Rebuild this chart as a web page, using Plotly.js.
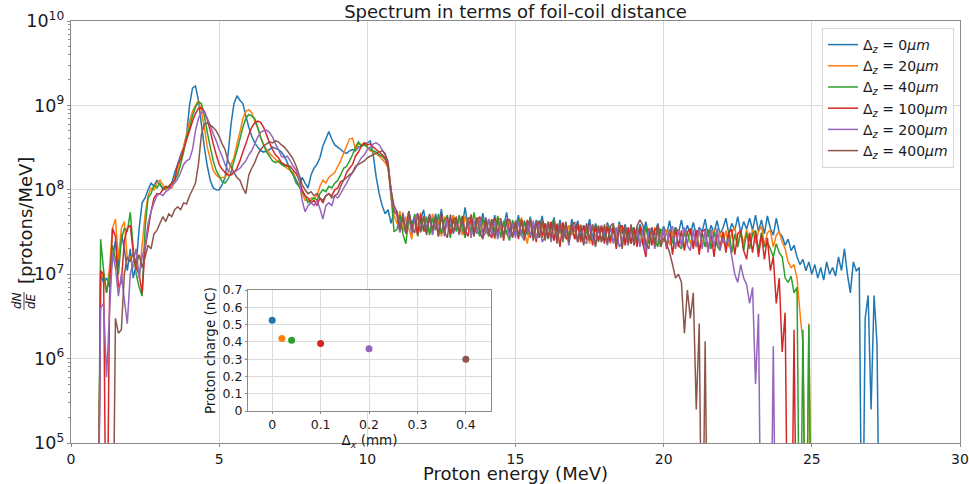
<!DOCTYPE html>
<html>
<head>
<meta charset="utf-8">
<script src="https://cdn.plot.ly/plotly-3.0.1.min.js"></script>
<style>html,body{margin:0;padding:0;background:#fff;}#chart{width:969px;height:484px;}</style>
</head>
<body>
<div id="chart"></div>
<script>
// Energy grid: first bin 0.9 MeV, bin width 0.1 MeV
const E_START = 0.9;
const E_STEP = 0.1;

const seriesNames = ['Δ<sub><i>z</i></sub> = 0<i>μm</i>', 'Δ<sub><i>z</i></sub> = 20<i>μm</i>', 'Δ<sub><i>z</i></sub> = 40<i>μm</i>',
  'Δ<sub><i>z</i></sub> = 100<i>μm</i>', 'Δ<sub><i>z</i></sub> = 200<i>μm</i>', 'Δ<sub><i>z</i></sub> = 400<i>μm</i>'];
const colors = ['#1f77b4', '#ff7f0e', '#2ca02c', '#d62728', '#9467bd', '#8c564b'];

// dN/dE [protons/MeV], Δz = 0 µm
const spec0 = [1e3,
1.0e7,8e6,9e6,7e6,1.5e7,2.5e7,1.2e7,3.0e7,2.0e7,1.1e7,
2.0e7,9e6,1.3e7,3.5e7,7e7,8e7,1.0e8,1.2e8,1.1e8,1.3e8,
1.15e8,1.05e8,1.0e8,1.1e8,1.2e8,1.6e8,2.0e8,2.6e8,3.2e8,4.5e8,
1.0e9,1.6e9,1.7e9,1.15e9,6.0e8,3.2e8,1.9e8,1.3e8,1.05e8,1.0e8,
1.0e8,1.15e8,1.4e8,2.6e8,6.0e8,1.05e9,1.3e9,1.15e9,1.05e9,7.5e8,
5.5e8,4.3e8,3.6e8,3.2e8,2.9e8,2.8e8,2.9e8,3.0e8,3.2e8,3.1e8,
3.0e8,2.8e8,2.5e8,2.1e8,1.7e8,1.5e8,1.2e8,1.1e8,1.4e8,1.2e8,
1.05e8,1.5e8,1.8e8,2.0e8,2.4e8,3.3e8,4.0e8,4.9e8,4.0e8,3.4e8,
3.2e8,3.0e8,2.8e8,2.7e8,2.9e8,3.0e8,2.9e8,3.2e8,3.3e8,3.5e8,
3.6e8,3.8e8,2.6e8,1.4e8,9e7,6.5e7,5.2e7,5.8e7,4.0e7,5.5e7,
5.5e7,3.6e7,4.8e7,3.2e7,5.6e7,3.9e7,4.9e7,3.3e7,4.4e7,5.8e7,
3.4e7,4.6e7,3.0e7,5.2e7,3.8e7,5.9e7,3.2e7,4.4e7,3.6e7,5.0e7,
3.3e7,4.8e7,3.7e7,6.2e7,3.5e7,4.4e7,2.9e7,4.7e7,3.6e7,5.3e7,
3.1e7,4.5e7,3.4e7,5.0e7,2.8e7,4.2e7,3.6e7,5.4e7,3.2e7,4.0e7,
3.5e7,5.0e7,2.9e7,4.3e7,3.3e7,4.8e7,2.7e7,4.4e7,3.5e7,4.9e7,
3.0e7,4.2e7,3.4e7,4.7e7,2.8e7,4.4e7,3.1e7,3.9e7,2.7e7,4.5e7,
3.2e7,4.3e7,2.7e7,3.8e7,3.0e7,4.5e7,2.6e7,4.0e7,3.1e7,3.7e7,
2.8e7,4.1e7,3.2e7,3.6e7,2.5e7,4.2e7,3.0e7,3.9e7,2.7e7,3.6e7,
3.3e7,2.6e7,3.9e7,3.0e7,4.2e7,2.7e7,3.5e7,2.9e7,4.0e7,2.8e7,
3.7e7,2.9e7,4.3e7,2.7e7,3.6e7,3.1e7,4.4e7,2.8e7,3.8e7,3.0e7,
4.1e7,2.9e7,3.6e7,3.2e7,4.5e7,2.8e7,3.8e7,3.1e7,4.3e7,3.0e7,
3.5e7,4.6e7,3.0e7,4.0e7,3.3e7,4.8e7,3.1e7,4.2e7,3.4e7,4.6e7,
3.3e7,5.0e7,3.2e7,4.4e7,3.0e7,4.9e7,3.5e7,2.9e7,4.6e7,3.1e7,
2.8e7,2.2e7,2.6e7,1.9e7,2.2e7,1.6e7,1.3e7,1.5e7,1.1e7,1.4e7,
1.0e7,1.3e7,9e6,1.2e7,8.5e6,1.4e7,1.0e7,1.2e7,9.5e6,1.6e7,
1.1e7,2.0e7,1.0e7,6e6,1.4e7,1.1e7,1.2e7,1e3,3e6,5.6e6,
2.5e5,5.6e6,1.5e6,1e3];

// Δz = 20 µm
const spec20 = [1e3,
1.1e7,9e6,6e6,1.2e7,3.5e7,4.5e7,1.5e7,3.5e7,4.2e7,1.5e7,
1.6e7,1.2e7,1.5e7,9e6,2.2e7,5e7,8.5e7,1.05e8,1.0e8,1.2e8,
1.3e8,1.15e8,1.0e8,1.1e8,1.05e8,1.4e8,1.6e8,2.4e8,3.2e8,4.5e8,
6.5e8,8.5e8,1.0e9,1.15e9,8.5e8,5.5e8,3.2e8,2.3e8,1.7e8,1.5e8,
1.4e8,1.4e8,1.4e8,1.6e8,2.0e8,2.4e8,3.5e8,4.8e8,7.0e8,8.5e8,
8.9e8,8.2e8,6.5e8,5.4e8,4.2e8,3.4e8,3.0e8,2.7e8,2.5e8,2.3e8,
2.1e8,2.1e8,1.9e8,1.8e8,1.7e8,1.6e8,1.3e8,1.1e8,9e7,7.5e7,
7.5e7,8e7,8e7,8.5e7,1.1e8,1.3e8,1.2e8,1.4e8,1.5e8,1.6e8,
1.9e8,2.2e8,2.7e8,3.3e8,4.0e8,4.1e8,3.0e8,3.5e8,3.4e8,3.6e8,
3.2e8,2.9e8,2.8e8,2.7e8,2.5e8,2.3e8,2.1e8,1.8e8,8e7,5e7,
4.0e7,5.6e7,3.2e7,4.8e7,3.5e7,2.6e7,4.9e7,3.6e7,5.4e7,3.3e7,
4.7e7,3.1e7,5.2e7,3.6e7,4.4e7,2.8e7,4.8e7,3.8e7,3.0e7,5.0e7,
3.6e7,4.6e7,2.9e7,4.9e7,3.4e7,4.3e7,2.8e7,4.7e7,3.5e7,4.1e7,
3.1e7,4.5e7,3.6e7,2.6e7,4.8e7,3.3e7,4.1e7,2.9e7,4.4e7,3.4e7,
4.0e7,2.9e7,4.7e7,3.2e7,2.3e7,4.2e7,3.1e7,3.9e7,2.7e7,3.8e7,
2.9e7,4.2e7,3.2e7,2.5e7,4.0e7,3.0e7,4.1e7,2.6e7,3.8e7,2.9e7,
3.6e7,2.4e7,3.9e7,2.8e7,3.5e7,2.3e7,3.9e7,2.7e7,3.6e7,2.5e7,
3.3e7,3.8e7,2.3e7,3.5e7,2.6e7,3.9e7,2.4e7,3.3e7,2.2e7,3.6e7,
2.6e7,3.6e7,2.3e7,3.3e7,2.1e7,3.4e7,2.5e7,3.6e7,2.2e7,3.1e7,
2.4e7,3.4e7,2.2e7,3.2e7,2.0e7,3.3e7,2.5e7,2.1e7,3.2e7,2.3e7,
3.1e7,2.1e7,3.3e7,2.3e7,3.2e7,1.9e7,2.9e7,3.4e7,2.2e7,3.1e7,
2.3e7,3.3e7,2.1e7,3.1e7,3.6e7,2.2e7,3.2e7,2.3e7,3.4e7,2.4e7,
3.4e7,2.3e7,3.2e7,3.7e7,2.2e7,3.1e7,3.3e7,2.1e7,2.9e7,3.2e7,
2.4e7,2.0e7,1.4e7,1.2e7,1.3e7,9e6,3.5e6,1.5e6,1e3,2.6e6,
1e3];

// Δz = 40 µm
const spec40 = [1e3,
2.6e7,1.1e7,6e6,1.0e7,2.2e7,1.5e7,1.0e7,2.6e7,3.5e7,3.2e7,
5.4e7,2.0e7,1.0e7,7e6,5.5e6,3.5e7,8e7,9e7,1.15e8,1.05e8,
1.2e8,1.0e8,1.05e8,1.1e8,1.2e8,1.3e8,1.5e8,2.0e8,2.8e8,4.2e8,
5.5e8,7.5e8,9.5e8,1.1e9,1.05e9,7.5e8,4.8e8,3.2e8,2.2e8,1.7e8,
1.45e8,1.25e8,1.2e8,1.35e8,1.6e8,2.2e8,2.9e8,4.0e8,5.5e8,7.0e8,
7.8e8,7.5e8,7.0e8,5.5e8,4.2e8,3.4e8,2.8e8,2.5e8,2.2e8,2.1e8,
2.2e8,2.0e8,1.9e8,2.0e8,1.7e8,1.5e8,1.3e8,1.1e8,9.5e7,8.5e7,
7e7,7.5e7,8e7,7.5e7,9e7,1.0e8,9.5e7,1.1e8,1.05e8,1.2e8,
1.3e8,1.5e8,1.8e8,1.9e8,2.2e8,2.6e8,3.2e8,3.7e8,3.3e8,3.4e8,
3.2e8,3.0e8,2.9e8,2.8e8,2.6e8,2.5e8,2.3e8,1.9e8,9e7,3.2e7,
3.4e7,5.0e7,3.0e7,2.3e7,4.7e7,3.3e7,5.2e7,2.8e7,4.5e7,3.2e7,
4.8e7,2.9e7,4.6e7,3.3e7,5.2e7,3.0e7,4.3e7,5.0e7,2.7e7,4.5e7,
3.2e7,5.0e7,3.6e7,2.7e7,4.7e7,3.1e7,5.4e7,3.4e7,2.8e7,4.6e7,
3.4e7,2.8e7,4.5e7,3.2e7,4.9e7,2.7e7,4.3e7,3.1e7,2.5e7,4.4e7,
3.0e7,4.5e7,2.8e7,4.2e7,2.9e7,4.6e7,2.6e7,4.0e7,4.3e7,2.7e7,
4.0e7,2.6e7,3.9e7,4.4e7,2.7e7,3.8e7,2.4e7,4.0e7,2.8e7,3.9e7,
2.6e7,3.8e7,3.5e7,2.3e7,3.9e7,2.7e7,2.5e7,3.8e7,2.4e7,3.6e7,
2.5e7,3.7e7,2.6e7,3.8e7,2.2e7,3.5e7,3.7e7,2.4e7,3.4e7,2.3e7,
3.6e7,2.4e7,3.4e7,2.2e7,3.7e7,2.3e7,3.5e7,2.5e7,2.1e7,3.4e7,
3.2e7,2.1e7,3.4e7,2.3e7,3.6e7,2.2e7,2.0e7,3.3e7,2.3e7,3.5e7,
2.2e7,3.3e7,1.9e7,3.1e7,2.1e7,3.4e7,2.0e7,3.2e7,2.2e7,1.9e7,
3.1e7,2.0e7,3.3e7,1.8e7,3.0e7,2.1e7,3.2e7,1.9e7,3.1e7,2.0e7,
3.0e7,3.3e7,1.9e7,3.1e7,2.1e7,2.4e7,2.0e7,1.6e7,2.3e7,1.8e7,
1.6e7,9e6,8e6,9.5e6,6e6,7e6,1e3,2.2e6,1e3,2.5e6,
1e3];

// Δz = 100 µm
const spec100 = [1e3,
1.1e7,1.0e7,1e3,5e6,3.5e7,2.8e7,7e6,8e6,2.5e7,3.5e7,
3.8e7,1.8e7,1.2e7,1.0e7,6e6,2.0e7,3.3e7,5.5e7,8e7,9e7,
9e7,1.0e8,1.1e8,1.05e8,1.2e8,1.3e8,2.0e8,2.3e8,3.0e8,3.9e8,
5.0e8,6.5e8,8.0e8,9.2e8,9.4e8,8.5e8,6.8e8,5.0e8,3.5e8,2.6e8,
2.0e8,1.75e8,1.6e8,1.5e8,1.5e8,1.6e8,1.8e8,2.2e8,2.8e8,3.5e8,
4.5e8,5.5e8,6.2e8,6.5e8,6.3e8,5.5e8,4.5e8,3.6e8,3.0e8,2.6e8,
2.4e8,2.1e8,2.0e8,1.9e8,1.9e8,1.7e8,1.55e8,1.3e8,1.0e8,8.5e7,
8e7,7e7,7.5e7,6.5e7,8e7,7e7,8.5e7,9e7,8.5e7,1.0e8,
1.05e8,1.25e8,1.3e8,1.6e8,1.8e8,2.0e8,2.5e8,2.8e8,3.3e8,3.6e8,
3.4e8,3.5e8,3.2e8,3.0e8,2.8e8,2.6e8,2.4e8,1.9e8,1.0e8,5.5e7,
5.2e7,3.2e7,4.8e7,3.0e7,5.6e7,3.3e7,4.6e7,2.9e7,5.1e7,3.4e7,
3.1e7,5.0e7,3.3e7,4.6e7,2.8e7,5.2e7,3.2e7,4.7e7,3.0e7,4.4e7,
4.7e7,3.0e7,4.5e7,3.3e7,2.8e7,5.1e7,3.1e7,4.4e7,4.8e7,2.9e7,
4.4e7,3.1e7,2.7e7,4.6e7,3.0e7,4.3e7,2.5e7,4.5e7,3.1e7,2.8e7,
4.1e7,2.6e7,4.3e7,2.9e7,4.4e7,2.7e7,4.0e7,2.4e7,4.2e7,2.8e7,
4.0e7,2.7e7,4.2e7,2.5e7,3.9e7,2.1e7,4.1e7,2.7e7,2.5e7,3.9e7,
2.6e7,4.0e7,2.4e7,3.8e7,2.5e7,3.9e7,2.2e7,3.7e7,2.5e7,3.8e7,
2.3e7,3.7e7,2.4e7,3.6e7,2.0e7,3.5e7,3.8e7,2.2e7,3.6e7,2.3e7,
3.5e7,2.1e7,3.7e7,2.3e7,1.6e7,3.5e7,2.2e7,3.4e7,3.6e7,2.1e7,
3.4e7,2.0e7,3.3e7,1.7e7,3.5e7,2.1e7,3.3e7,1.9e7,3.2e7,3.4e7,
2.0e7,3.3e7,1.7e7,3.2e7,3.4e7,1.9e7,3.1e7,1.6e7,3.3e7,2.0e7,
3.2e7,1.8e7,3.1e7,3.4e7,1.7e7,3.0e7,3.3e7,1.9e7,1.5e7,3.1e7,
1.8e7,3.2e7,1.6e7,3.0e7,1.5e7,2.7e7,1.1e7,1.6e7,4.5e6,9e6,
1.2e6,3.5e6,1e3,1e3,2.2e6,1e3];

// Δz = 200 µm
const spec200 = [1e3,
4e6,4.5e6,6e5,3.5e6,1.8e7,1.2e7,5.5e6,1.0e7,5e6,2.6e6,
1.0e7,1.4e7,2.0e7,9e6,1.6e7,2.2e7,4e7,5.5e7,7e7,8.5e7,
9e7,8.5e7,9.5e7,1.0e8,1.1e8,1.2e8,1.35e8,1.6e8,2.0e8,2.2e8,
2.3e8,3.0e8,5.0e8,7.0e8,8.2e8,8.5e8,7.0e8,5.8e8,4.6e8,3.8e8,
3.0e8,2.5e8,2.0e8,1.7e8,1.6e8,1.6e8,1.7e8,1.8e8,2.0e8,2.2e8,
2.6e8,2.9e8,3.5e8,4.2e8,4.8e8,5.0e8,5.1e8,4.8e8,4.2e8,3.5e8,
3.0e8,2.5e8,2.4e8,2.5e8,2.2e8,1.9e8,1.7e8,1.3e8,7.5e7,5.5e7,
6.5e7,7e7,6.5e7,7.5e7,6e7,4.5e7,6.5e7,7e7,6.5e7,8.5e7,
8e7,9e7,1.05e8,1.2e8,1.4e8,1.6e8,1.8e8,2.1e8,2.4e8,2.6e8,
3.0e8,3.2e8,3.5e8,3.6e8,3.4e8,3.0e8,2.6e8,2.2e8,9e7,6e7,
4.9e7,3.1e7,5.4e7,3.4e7,5.0e7,3.0e7,4.5e7,5.3e7,3.1e7,4.7e7,
3.3e7,5.1e7,2.9e7,4.5e7,3.2e7,4.9e7,2.8e7,4.4e7,4.6e7,3.0e7,
4.4e7,2.9e7,4.8e7,3.1e7,4.5e7,2.7e7,4.3e7,3.0e7,4.6e7,2.8e7,
3.1e7,4.5e7,2.9e7,4.3e7,2.6e7,4.2e7,2.8e7,4.4e7,2.7e7,4.0e7,
2.7e7,4.2e7,2.9e7,2.5e7,4.1e7,2.8e7,4.3e7,2.6e7,3.9e7,2.4e7,
2.8e7,4.1e7,2.4e7,3.9e7,2.6e7,4.0e7,2.5e7,3.8e7,2.2e7,3.7e7,
3.7e7,2.4e7,3.8e7,2.5e7,2.3e7,3.8e7,2.6e7,2.2e7,3.7e7,2.4e7,
3.5e7,2.2e7,3.7e7,2.3e7,3.6e7,2.1e7,2.4e7,3.7e7,2.2e7,3.5e7,
2.2e7,3.6e7,2.1e7,3.4e7,1.8e7,3.3e7,3.5e7,2.0e7,3.3e7,2.2e7,
3.5e7,2.1e7,3.3e7,3.7e7,2.0e7,3.4e7,2.1e7,3.6e7,2.2e7,1.9e7,
3.4e7,2.1e7,3.6e7,2.0e7,3.3e7,1.8e7,3.4e7,2.1e7,3.5e7,1.9e7,
2.7e7,2.3e7,2.6e7,1.6e7,1.0e7,8e6,1.3e7,9e6,7.5e6,4.5e6,
7e6,5e5,3.4e6,1e3,1e3,1e3,1e3,1.4e6,1e3];

// Δz = 400 µm
const spec400 = [1e3,
1e3,1e3,1e3,1e3,1e3,3e6,2e6,2.2e6,1.0e7,1.6e7,
1.4e7,1.8e7,1.3e7,1.7e7,1.2e7,1.6e7,2.2e7,2.0e7,3.0e7,3.3e7,
4.0e7,4.8e7,4.2e7,5.2e7,4.8e7,5.8e7,6.3e7,5.8e7,7.0e7,6.8e7,
8.5e7,1.0e8,1.2e8,2.0e8,4.5e8,6.0e8,6.2e8,5.8e8,5.5e8,5.0e8,
4.3e8,3.5e8,3.0e8,2.2e8,1.9e8,1.6e8,1.4e8,1.3e8,1.05e8,9e7,
1.5e8,1.8e8,2.1e8,2.6e8,3.0e8,3.3e8,3.5e8,3.7e8,3.6e8,3.8e8,
3.7e8,3.4e8,3.2e8,2.9e8,2.6e8,2.3e8,1.9e8,1.5e8,1.15e8,1.0e8,
9e7,9.5e7,8.5e7,9e7,8e7,7.5e7,8.5e7,9e7,8e7,8.5e7,
9e7,1.1e8,1.3e8,1.4e8,1.5e8,1.6e8,1.9e8,2.0e8,2.1e8,2.2e8,
2.4e8,2.5e8,2.6e8,2.7e8,2.8e8,2.9e8,2.7e8,2.0e8,1.0e8,6.5e7,
5.5e7,3.3e7,5.1e7,3.0e7,5.6e7,3.5e7,3.1e7,5.2e7,3.2e7,4.9e7,
2.9e7,5.2e7,3.3e7,4.8e7,2.8e7,5.0e7,3.2e7,2.7e7,5.1e7,3.1e7,
4.6e7,3.0e7,4.9e7,2.9e7,4.5e7,4.8e7,2.8e7,4.6e7,3.1e7,2.6e7,
4.7e7,2.9e7,4.5e7,2.7e7,4.3e7,4.6e7,2.8e7,4.2e7,4.5e7,2.7e7,
4.3e7,2.8e7,4.5e7,2.6e7,4.1e7,4.3e7,2.5e7,4.2e7,2.7e7,4.4e7,
2.5e7,4.1e7,2.7e7,4.3e7,2.3e7,4.0e7,2.6e7,4.2e7,2.4e7,3.9e7,
4.1e7,2.4e7,3.8e7,2.2e7,4.0e7,2.5e7,3.9e7,2.1e7,3.8e7,2.4e7,
3.9e7,2.3e7,3.7e7,4.0e7,2.2e7,3.8e7,2.0e7,3.7e7,2.3e7,3.9e7,
2.2e7,3.7e7,4.4e7,3.8e7,2.3e7,2.0e7,3.6e7,2.2e7,3.9e7,2.1e7,
2.7e7,2.3e7,1.8e7,1.3e7,9e6,1.0e7,8e6,2e6,6.5e6,3e6,
6e6,2.5e5,2.6e6,1e3,1.6e6,1e3];

const spectra = [spec0, spec20, spec40, spec100, spec200, spec400];

// Inset: total proton charge vs displacement
const insetDisp = [0, 0.02, 0.04, 0.1, 0.2, 0.4];
const insetCharge = [0.525, 0.42, 0.41, 0.39, 0.36, 0.30];

const xTickVals = [0, 5, 10, 15, 20, 25, 30];
const insetXTicks = [0, 0.1, 0.2, 0.3, 0.4];
const insetXTickText = ['0', '0.1', '0.2', '0.3', '0.4'];

const traces = spectra.map((s, i) => ({
  type: 'scatter', mode: 'lines', x0: E_START, dx: E_STEP, y: s,
  name: seriesNames[i], line: {color: colors[i], width: 1.5, simplify: false},
  xaxis: 'x', yaxis: 'y'
}));

traces.push({
  type: 'scatter', mode: 'markers', x: insetDisp, y: insetCharge,
  marker: {color: colors, size: 7}, showlegend: false, xaxis: 'x2', yaxis: 'y2'
});

const W = 969, H = 484, ML = 71, MR = 9, MT = 21, MB = 41;
const PW = W - ML - MR, PH = H - MT - MB;
const px = v => (v - ML) / PW;
const py = v => (H - MB - v) / PH;

const grid = '#dcdcdc', spine = '#8a8a8a', txt = '#1a1a1a';
const font = 'DejaVu Sans, sans-serif';

const layout = {
  width: W, height: H,
  margin: {l: ML, r: MR, t: MT, b: MB},
  paper_bgcolor: '#fff', plot_bgcolor: '#fff',
  font: {family: font, color: txt},
  title: {text: 'Spectrum in terms of foil-coil distance', font: {size: 18, family: font, color: txt},
          x: 0.5, xref: 'paper', xanchor: 'center', y: 1 - 12 / H, yref: 'container', yanchor: 'middle'},
  showlegend: true,
  legend: {x: px(954), xanchor: 'right', y: py(28), yanchor: 'top', bgcolor: '#fff', itemwidth: 30,
           bordercolor: '#d8d8d8', borderwidth: 1, font: {size: 14, family: font, color: txt}},
  xaxis: {domain: [0, 1], range: [0, 30], tickvals: xTickVals, showgrid: true, gridcolor: grid, gridwidth: 1,
          zeroline: false, showline: true, mirror: true, linecolor: spine, linewidth: 1,
          ticks: 'outside', ticklen: 3, tickcolor: spine, tickfont: {size: 14, family: font, color: txt},
          title: {text: 'Proton energy (MeV)', font: {size: 18, family: font, color: txt}, standoff: 2}},
  yaxis: {domain: [0, 1], type: 'log', range: [5, 10], dtick: 1, exponentformat: 'power', showgrid: true,
          gridcolor: grid, gridwidth: 1, zeroline: false, showline: true, mirror: true, linecolor: spine, linewidth: 1,
          ticks: 'outside', ticklen: 3, tickcolor: spine, tickfont: {size: 14, family: font, color: txt},
          minor: {ticks: 'outside', ticklen: 2, tickcolor: spine, showgrid: false}},
  xaxis2: {domain: [px(248), px(491)], anchor: 'y2', range: [-0.05, 0.452], tickvals: insetXTicks, ticktext: insetXTickText,
           showgrid: true, gridcolor: grid, zeroline: false, showline: true, mirror: true, linecolor: spine, linewidth: 1,
           ticks: 'outside', ticklen: 2, tickcolor: spine, tickfont: {size: 12.5, family: font, color: txt},
           title: {text: 'Δ<sub><i>x</i></sub> (mm)', font: {size: 13.5, family: font, color: txt}, standoff: 1}},
  yaxis2: {domain: [py(411), py(290)], anchor: 'x2', range: [0, 0.7], dtick: 0.1, showgrid: true, gridcolor: grid,
           zeroline: false, showline: true, mirror: true, linecolor: spine, linewidth: 1,
           ticks: 'outside', ticklen: 2, tickcolor: spine, tickfont: {size: 12.5, family: font, color: txt},
           title: {text: 'Proton charge (nC)', font: {size: 13.5, family: font, color: txt}, standoff: 3}},
  annotations: [
    {xref: 'paper', yref: 'paper', x: px(25), y: py(221), text: '[protons/MeV]', textangle: -90, showarrow: false,
     font: {size: 18, family: font, color: txt}, xanchor: 'center', yanchor: 'middle'},
    {xref: 'paper', yref: 'paper', x: px(17), y: py(301), text: '<i>dN</i>', textangle: -90, showarrow: false,
     font: {size: 12, family: font, color: txt}, xanchor: 'center', yanchor: 'middle'},
    {xref: 'paper', yref: 'paper', x: px(31), y: py(301), text: '<i>dE</i>', textangle: -90, showarrow: false,
     font: {size: 12, family: font, color: txt}, xanchor: 'center', yanchor: 'middle'}
  ],
  shapes: [
    {type: 'line', xref: 'paper', yref: 'paper', x0: px(24), x1: px(24), y0: py(292), y1: py(310),
     line: {color: txt, width: 0.8}}
  ]
};

Plotly.newPlot('chart', traces, layout, {displayModeBar: false, staticPlot: true});
</script>
</body>
</html>
